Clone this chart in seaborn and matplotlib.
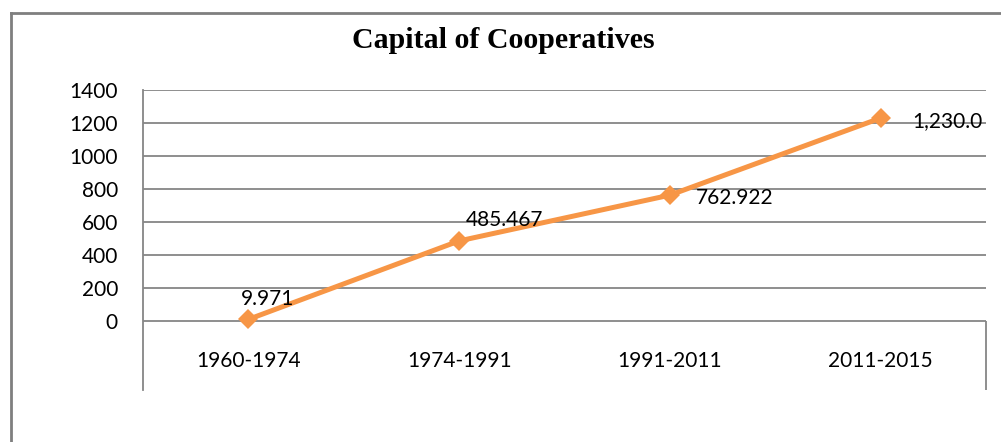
import pandas as pd
import seaborn as sns
from matplotlib import pyplot as plt

periods = ['1960-1974', '1974-1991', '1991-2011', '2011-2015']
capital = [9.971, 485.467, 762.922, 1230.0]
value_labels = ['9.971', '485.467', '762.922', '1,230.0']
label_offsets = [(14, 15), (33, 15), (47, -2), (48, -2)]  # points, from each marker
y_ticks = [0, 200, 400, 600, 800, 1000, 1200, 1400]

ORANGE = '#F79646'
GREY = '#868686'
FS = 15


def main():
    sns.set_theme(style='white')
    plt.rcParams['font.family'] = ['Lato', 'DejaVu Sans']

    df = pd.DataFrame({'period': periods, 'capital': capital})

    fig = plt.figure(figsize=(10.01, 4.42), dpi=100)

    # outer frame: only top and left edges fall inside the image
    top = 1 - 13 / 442
    left = 11 / 1001
    frame = fig.add_axes([left, -0.05, 1, top + 0.05])
    frame.set_xticks([])
    frame.set_yticks([])
    frame.patch.set_alpha(0)
    for s in ['bottom', 'right']:
        frame.spines[s].set_visible(False)
    for s in ['top', 'left']:
        frame.spines[s].set_color('#7f7f7f')
        frame.spines[s].set_linewidth(2)

    # plot area: x 143..986 px, y 90..390 px
    ax = fig.add_axes([143 / 1001, 1 - 390 / 442, (986 - 143) / 1001, 300 / 442])

    sns.lineplot(data=df, x='period', y='capital', ax=ax, color=ORANGE, linewidth=3.6,
                 marker='D', markersize=10, markeredgewidth=0, sort=False, zorder=3)

    ax.set_xlim(-0.5, 3.5)
    ax.set_ylim(-418, 1400)
    ax.set_yticks(y_ticks)
    ax.set_yticklabels([str(v) for v in y_ticks], fontsize=FS, color='black')
    ax.yaxis.grid(True, color=GREY, linewidth=1.3)
    ax.set_axisbelow(True)
    ax.patch.set_alpha(0)

    ax.set_xticks(range(len(periods)))
    ax.set_xticklabels(periods, fontsize=FS, color='black')
    ax.tick_params(axis='x', length=0, pad=-28)
    ax.tick_params(axis='y', length=0, pad=18)
    ax.set_xlabel('')
    ax.set_ylabel('')

    for s in ['top', 'right', 'bottom']:
        ax.spines[s].set_visible(False)
    ax.spines['left'].set_color(GREY)
    ax.spines['left'].set_linewidth(1.3)
    ax.vlines(3.5, -418, 0, color=GREY, linewidth=1.3, clip_on=False)

    for i, (v, txt) in enumerate(zip(capital, value_labels)):
        ax.annotate(txt, (i, v), xytext=label_offsets[i], textcoords='offset points',
                    ha='center', va='center', fontsize=FS, color='black')

    fig.text(503 / 1001, 1 - 40 / 442, 'Capital of Cooperatives', ha='center', va='center',
             fontsize=21.5, fontweight='bold', family='Liberation Serif', color='black')

    fig.savefig('out.png', dpi=100)


if __name__ == '__main__':
    main()
